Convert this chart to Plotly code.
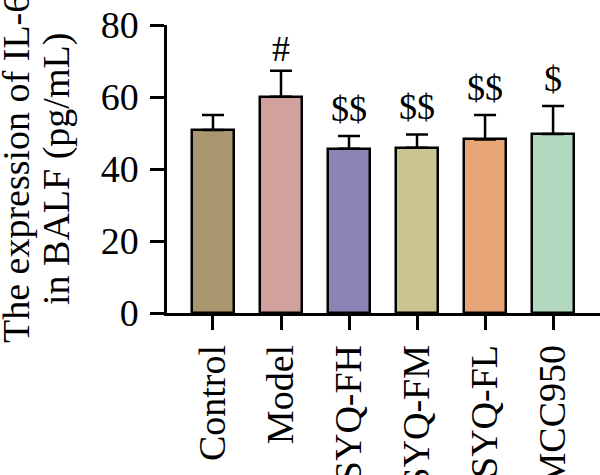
import plotly.graph_objects as go

categories = ["Control", "Model", "SYQ-FH", "SYQ-FM", "SYQ-FL", "MCC950"]
means = [50.8, 60.1, 45.6, 45.9, 48.2, 49.7]
err_top = [55.0, 67.3, 49.2, 49.6, 55.0, 57.5]
marks = ["", "#", "$$", "$$", "$$", "$"]
colors = ["#A8966F", "#D1A19E", "#8B84B5", "#CBC592", "#E8A576", "#B2D9C0"]
y_ticks = [0, 20, 40, 60, 80]
y_title_lines = ["The expression of IL-6", "in BALF (pg/mL)"]

FONT = "Liberation Serif"
FS = 38
errs = [t - m for t, m in zip(err_top, means)]
xpos = list(range(len(categories)))

fig = go.Figure()
fig.add_trace(go.Bar(
    x=xpos, y=means, width=0.62,
    marker=dict(color=colors, line=dict(color="black", width=2.5)),
    error_y=dict(type="data", symmetric=False, array=errs, arrayminus=[0]*len(errs),
                 color="black", thickness=2.5, width=11),
    showlegend=False,
))

for i, (m, t) in enumerate(zip(marks, err_top)):
    if m:
        fig.add_annotation(x=i, y=t, xref="x", yref="y", text=m, showarrow=False,
                           yanchor="bottom", yshift=0 if m == "#" else 5,
                           font=dict(family=FONT, size=36, color="black"))

pw = 600 - 167
for line, px in zip(y_title_lines, [16, 56]):
    fig.add_annotation(x=(px - 167) / pw, y=0.5, xref="paper", yref="paper",
                       text=line, textangle=-90, showarrow=False,
                       xanchor="center", yanchor="middle",
                       font=dict(family=FONT, size=FS, color="black"))

fig.update_layout(
    width=600, height=475,
    margin=dict(l=167, r=0, t=25, b=162),
    plot_bgcolor="white", paper_bgcolor="white",
    font=dict(family=FONT, size=FS, color="black"),
    bargap=0,
)
fig.update_xaxes(range=[-0.676, 5.69], tickvals=xpos, ticktext=categories,
                 tickangle=-90, showline=True, linecolor="black", linewidth=2.5,
                 ticks="outside", ticklen=14, tickwidth=2.5, tickcolor="black",
                 showgrid=False, zeroline=False, automargin=False,
                 tickfont=dict(family=FONT, size=FS, color="black"))
fig.update_yaxes(range=[0, 80], tickvals=y_ticks, showline=True, linecolor="black",
                 linewidth=2.5, ticks="outside", ticklen=14, tickwidth=2.5,
                 tickcolor="black", showgrid=False, zeroline=False, automargin=False,
                 ticklabelstandoff=4,
                 tickfont=dict(family=FONT, size=FS, color="black"))

fig.write_html("out.html")
